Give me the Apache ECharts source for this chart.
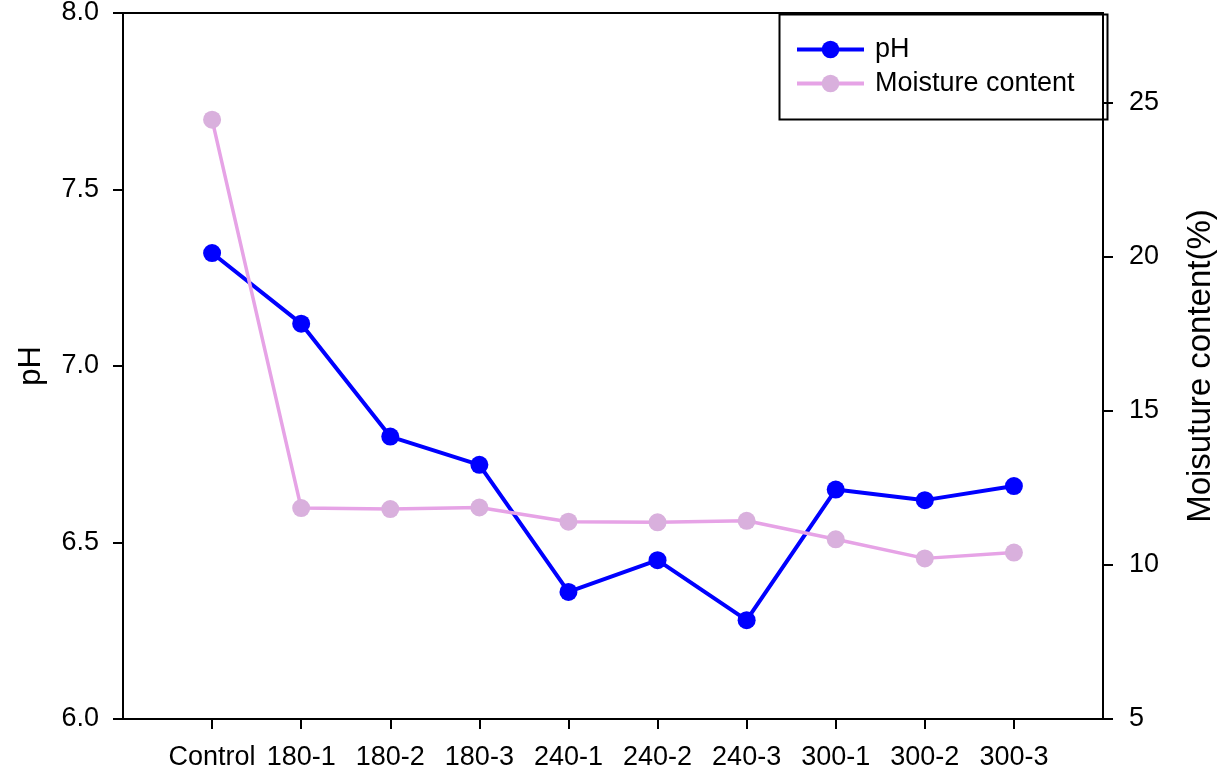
<!DOCTYPE html>
<html>
<head>
<meta charset="utf-8">
<script src="https://cdn.jsdelivr.net/npm/echarts@6/dist/echarts.min.js"></script>
<style>html,body{margin:0;padding:0;background:#fff;}#c{width:1228px;height:768px;}</style>
</head>
<body>
<div id="c"></div>
<script>
const categories = ['Control','180-1','180-2','180-3','240-1','240-2','240-3','300-1','300-2','300-3'];
const pH = [7.32, 7.12, 6.80, 6.72, 6.36, 6.45, 6.28, 6.65, 6.62, 6.66];
const moisture = [24.44, 11.84, 11.81, 11.86, 11.40, 11.38, 11.43, 10.83, 10.21, 10.40];
const leftTicks = [6.0, 6.5, 7.0, 7.5, 8.0];
const rightTicks = [5, 10, 15, 20, 25];
const positions = categories.map((c, i) => i + 1);

const FONT = "'Liberation Sans', Arial, sans-serif";
const chart = echarts.init(document.getElementById('c'), null, {renderer: 'canvas'});
const axisLine = {show: true, lineStyle: {color: '#000', width: 2}};
const axisTick = {show: true, inside: false, length: 10, lineStyle: {color: '#000', width: 2}};

chart.setOption({
  animation: false,
  backgroundColor: '#fff',
  grid: {left: 123, right: 125, top: 13, bottom: 49, show: true, borderColor: '#000', borderWidth: 2,
         containLabel: false, outerBoundsMode: 'none'},
  legend: {
    orient: 'vertical', left: 790, top: 31, itemGap: 7, itemWidth: 67, itemHeight: 22,
    textStyle: {fontFamily: FONT, fontSize: 27, color: '#000', padding: [0, 0, 0, 6]},
    data: [
      {name: 'pH', lineStyle: {width: 4}},
      {name: 'Moisture content', lineStyle: {width: 4}}
    ]
  },
  graphic: [{
    type: 'rect', left: 777, top: 12, z: 100, silent: true,
    shape: {width: 328, height: 105},
    style: {fill: 'none', stroke: '#000', lineWidth: 2}
  }],
  xAxis: {
    type: 'value', min: 0, max: 11, interval: 1,
    axisLine: axisLine,
    axisTick: Object.assign({}, axisTick, {customValues: positions}),
    splitLine: {show: false},
    axisLabel: {
      customValues: positions, margin: 25,
      fontFamily: FONT, fontSize: 27, color: '#000',
      formatter: v => categories[Math.round(v) - 1] || ''
    }
  },
  yAxis: [{
    type: 'value', min: 6, max: 8, interval: 0.5, position: 'left',
    name: 'pH', nameLocation: 'middle', nameGap: 76, nameRotate: 90,
    nameTextStyle: {fontFamily: FONT, fontSize: 31, color: '#000'},
    axisLine: axisLine, axisTick: axisTick, splitLine: {show: false},
    axisLabel: {customValues: leftTicks, margin: 24, fontFamily: FONT, fontSize: 27, color: '#000', formatter: v => v.toFixed(1)}
  }, {
    type: 'value', min: 5, max: 27.9, interval: 5, position: 'right',
    name: 'Moisuture content(%)', nameLocation: 'middle', nameGap: 81, nameRotate: 90,
    nameTextStyle: {fontFamily: FONT, fontSize: 33, color: '#000'},
    axisLine: axisLine,
    axisTick: Object.assign({}, axisTick, {customValues: rightTicks}),
    splitLine: {show: false},
    axisLabel: {customValues: rightTicks, margin: 26, fontFamily: FONT, fontSize: 27, color: '#000'}
  }],
  series: [{
    name: 'pH', type: 'line', yAxisIndex: 0,
    data: positions.map((x, i) => [x, pH[i]]),
    symbol: 'circle', symbolSize: 18,
    lineStyle: {color: '#0000FF', width: 4},
    itemStyle: {color: '#0000FF'}
  }, {
    name: 'Moisture content', type: 'line', yAxisIndex: 1,
    data: positions.map((x, i) => [x, moisture[i]]),
    symbol: 'circle', symbolSize: 18,
    lineStyle: {color: '#E6A3E6', width: 3.5},
    itemStyle: {color: '#D9B0DD'}
  }]
});
</script>
</body>
</html>
